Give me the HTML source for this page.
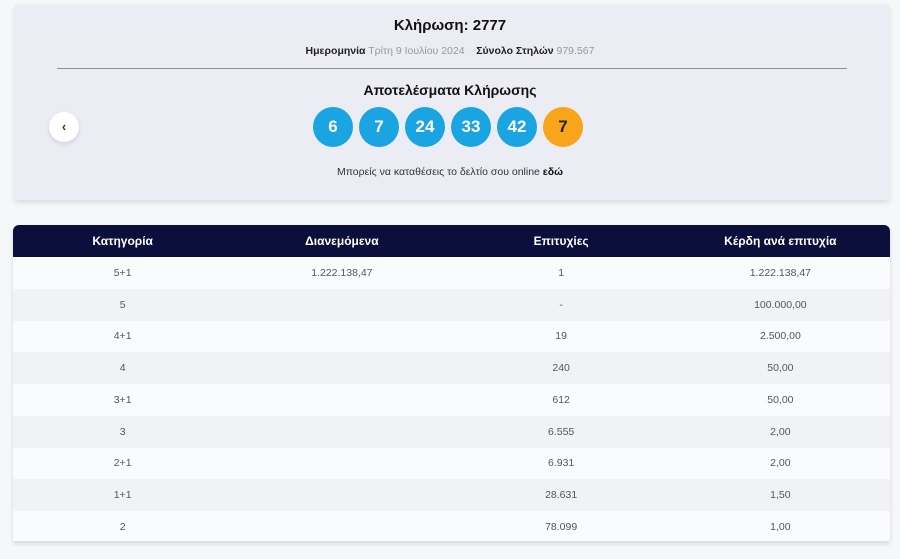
<!DOCTYPE html>
<html><head><meta charset="utf-8">
<style>
*{margin:0;padding:0;box-sizing:border-box}
html,body{width:900px;height:559px;overflow:hidden;background:#f6f7f9;font-family:"Liberation Sans","DejaVu Sans",sans-serif;position:relative}
.card{position:absolute;left:14px;top:4px;width:876px;height:196px;background:#ecedf4;border-radius:4px;box-shadow:0 3px 5px rgba(0,0,0,0.10)}
.abs{position:absolute;white-space:nowrap}
.title{left:0;width:900px;top:17px;text-align:center;font-weight:bold;font-size:15px;color:#111;}
.date{left:0;width:900px;top:45px;text-align:center;font-size:10.5px;color:#999;}
.date b{color:#222}
.line{left:57px;top:68px;width:790px;height:1px;background:#8d8f99}
.res{left:0;width:900px;top:82px;text-align:center;font-weight:bold;font-size:14px;color:#111}
.ball{position:absolute;top:107px;width:40px;height:40px;border-radius:50%;background:#1ba4e2;color:#fff;font-weight:bold;font-size:17px;text-align:center;line-height:40px}
.ball.o{background:#f8a51c;color:#222}
.back{position:absolute;left:49px;top:112px;width:30px;height:30px;border-radius:50%;background:#fff;box-shadow:0 2px 5px rgba(0,0,0,0.12);text-align:center;line-height:29px;font-size:13px;color:#333;font-weight:bold}
.online{left:0;width:900px;top:166px;text-align:center;font-size:10.5px;color:#333}
.online b{color:#111}
.table{position:absolute;left:13px;top:225px;width:877px;height:316px;border-radius:6px 6px 0 0;box-shadow:0 3px 5px rgba(0,0,0,0.12);overflow:hidden;background:#fafbfc}
.hdr{position:absolute;left:0;top:0;width:877px;height:32px;background:#0b0f3b}
.row{position:absolute;left:0;width:877px;height:31.75px}
.row.g{background:#f1f2f5}
.cell{position:absolute;top:0;width:219.25px;text-align:center;height:100%;display:flex;align-items:center;justify-content:center;font-size:10.5px;color:#555}
.hdr .cell{color:#fff;font-weight:bold;font-size:12px}
</style></head><body>
<div class="card"></div>
<div class="abs title">Κλήρωση: 2777</div>
<div class="abs date"><b>Ημερομηνία</b> Τρίτη 9 Ιουλίου 2024 &nbsp;&nbsp; <b>Σύνολο Στηλών</b> 979.567</div>
<div class="abs line"></div>
<div class="abs res">Αποτελέσματα Κλήρωσης</div>
<div class="back">‹</div>
<div class="ball" style="left:313px">6</div>
<div class="ball" style="left:359px">7</div>
<div class="ball" style="left:405px">24</div>
<div class="ball" style="left:451px">33</div>
<div class="ball" style="left:497px">42</div>
<div class="ball o" style="left:543px">7</div>
<div class="abs online">Μπορείς να καταθέσεις το δελτίο σου online <b>εδώ</b></div>

<div class="table">
 <div class="hdr">
  <div class="cell" style="left:0">Κατηγορία</div>
  <div class="cell" style="left:219.25px">Διανεμόμενα</div>
  <div class="cell" style="left:438.5px">Επιτυχίες</div>
  <div class="cell" style="left:657.75px">Κέρδη ανά επιτυχία</div>
 </div>
 <div class="row" style="top:32px"><div class="cell" style="left:0">5+1</div><div class="cell" style="left:219.25px">1.222.138,47</div><div class="cell" style="left:438.5px">1</div><div class="cell" style="left:657.75px">1.222.138,47</div></div>
 <div class="row g" style="top:63.75px"><div class="cell" style="left:0">5</div><div class="cell" style="left:438.5px">-</div><div class="cell" style="left:657.75px">100.000,00</div></div>
 <div class="row" style="top:95.5px"><div class="cell" style="left:0">4+1</div><div class="cell" style="left:438.5px">19</div><div class="cell" style="left:657.75px">2.500,00</div></div>
 <div class="row g" style="top:127.25px"><div class="cell" style="left:0">4</div><div class="cell" style="left:438.5px">240</div><div class="cell" style="left:657.75px">50,00</div></div>
 <div class="row" style="top:159px"><div class="cell" style="left:0">3+1</div><div class="cell" style="left:438.5px">612</div><div class="cell" style="left:657.75px">50,00</div></div>
 <div class="row g" style="top:190.75px"><div class="cell" style="left:0">3</div><div class="cell" style="left:438.5px">6.555</div><div class="cell" style="left:657.75px">2,00</div></div>
 <div class="row" style="top:222.5px"><div class="cell" style="left:0">2+1</div><div class="cell" style="left:438.5px">6.931</div><div class="cell" style="left:657.75px">2,00</div></div>
 <div class="row g" style="top:254.25px"><div class="cell" style="left:0">1+1</div><div class="cell" style="left:438.5px">28.631</div><div class="cell" style="left:657.75px">1,50</div></div>
 <div class="row" style="top:286px"><div class="cell" style="left:0">2</div><div class="cell" style="left:438.5px">78.099</div><div class="cell" style="left:657.75px">1,00</div></div>
</div>
</body></html>
